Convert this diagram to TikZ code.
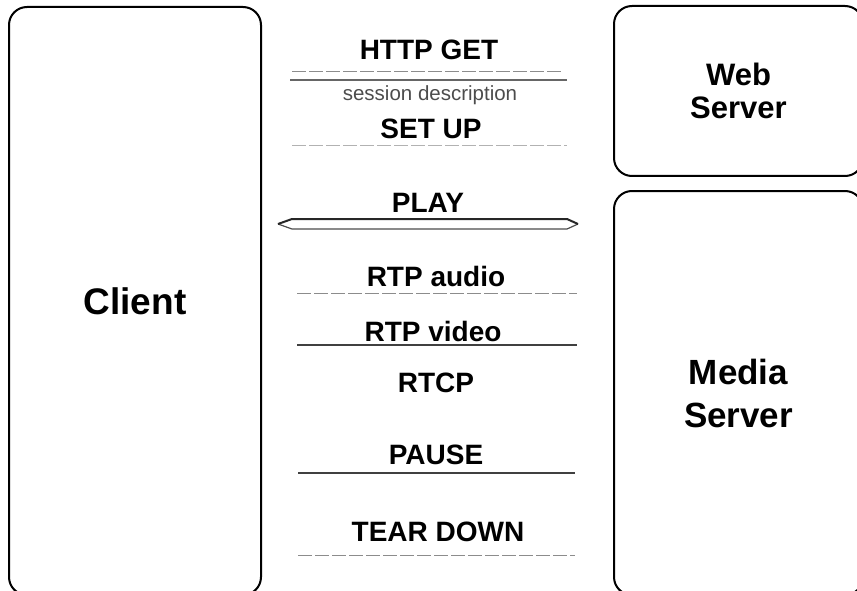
\documentclass[tikz,border=0pt]{standalone}
\usepackage{fontspec}
\setmainfont{Liberation Sans}
\begin{document}
\begin{tikzpicture}[x=1pt, y=-1pt,
  party/.style={draw, line width=2pt, rounded corners=18pt, inner sep=0pt,
    font=\bfseries, align=center},
  msg/.style={font=\fontsize{28}{30}\selectfont\bfseries, inner sep=0pt, anchor=center},
  flow/.style={line width=1.2pt, draw=black!75},
  faint/.style={line width=1pt, draw=black!45, dash pattern=on 14pt off 3pt}]
\useasboundingbox (0,0) rectangle (857,591);
\clip (0,0) rectangle (857,591);

% endpoints
\node[party, minimum width=252pt, minimum height=588pt,
  font=\fontsize{37}{40}\selectfont\bfseries] (client) at (135,301) {Client};
\node[party, minimum width=249pt, minimum height=170pt,
  font=\fontsize{31}{33}\selectfont\bfseries] (web) at (738.5,91) {Web\\Server};
\node[party, minimum width=249pt, minimum height=404pt,
  font=\fontsize{35}{43}\selectfont\bfseries] (media) at (738.5,393) {Media\\Server};

% message labels
\node[msg] (httpget) at (429,50) {HTTP GET};
\node[inner sep=0pt, text=black!70, font=\fontsize{20.5}{22}\selectfont] (sdp) at (430,95) {session description};
\node[msg] (setup) at (431,129) {SET UP};
\node[msg] (play) at (428,203) {PLAY};
\node[msg] (rtpa) at (436,276) {RTP audio};
\node[msg] (rtpv) at (433,331) {RTP video};
\node[msg] (rtcp) at (436,383) {RTCP};
\node[msg] (pause) at (436,455) {PAUSE};
\node[msg] (teardown) at (438,532) {TEAR DOWN};

% connector ends
\coordinate (g1a) at (292,72);  \coordinate (g1b) at (562,72);
\coordinate (g2a) at (290,80);  \coordinate (g2b) at (567,80);
\coordinate (sua) at (292,146); \coordinate (sub) at (567,146);
\coordinate (pl) at (278,224);  \coordinate (pr) at (578,224);
\coordinate (raa) at (297,293); \coordinate (rab) at (577,293);
\coordinate (rva) at (297,345); \coordinate (rvb) at (577,345);
\coordinate (pa) at (298,473);  \coordinate (pb) at (575,473);
\coordinate (ta) at (298,555);  \coordinate (tb) at (575,555);

% messages
\draw[faint] (g1a) -- (g1b);
\draw[flow, draw=black!60] (g2a) -- (g2b);
\draw[faint, draw=black!30] (sua) -- (sub);
% PLAY: outlined double-headed arrow
\draw[line width=1.2pt, draw=black!70]
  (pl) -- ([xshift=14pt, yshift=-5pt]pl) -- ([xshift=-11pt, yshift=-5pt]pr) -- (pr);
\draw[line width=2pt, draw=black!85]
  (pl) -- ([xshift=14pt, yshift=5pt]pl) -- ([xshift=-11pt, yshift=5pt]pr) -- (pr);
\draw[faint] (raa) -- (rab);
\draw[flow] (rva) -- (rvb);
\draw[flow] (pa) -- (pb);
\draw[faint] (ta) -- (tb);
\end{tikzpicture}
\end{document}
